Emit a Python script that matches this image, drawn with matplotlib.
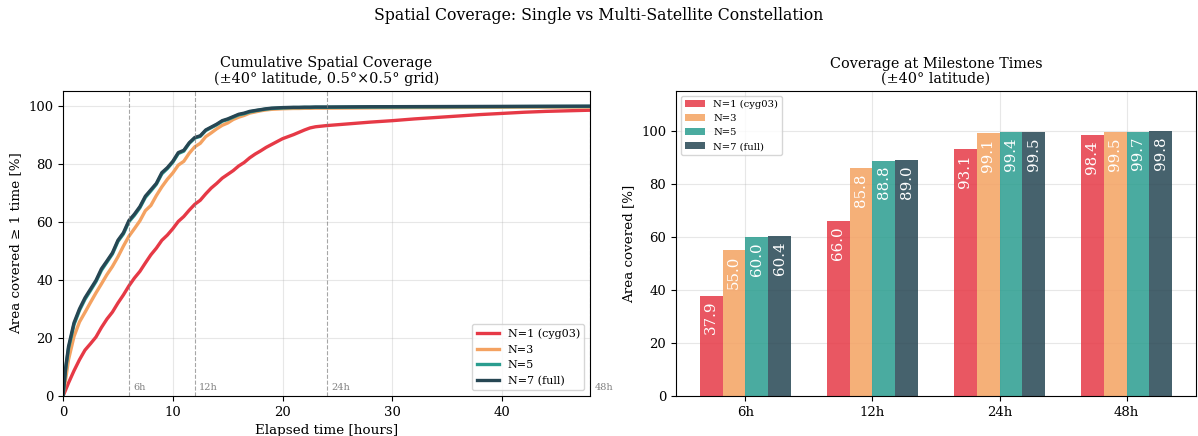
import numpy as np
import matplotlib
matplotlib.use("Agg")
import matplotlib.pyplot as plt

plt.rcParams["font.family"] = ["DejaVu Serif"]

# Elapsed time grid [hours]
hours = [0, 0.25] + [0.5 * k for k in range(1, 49)] + [26, 28, 30, 32, 34, 36, 38, 40, 42, 44, 46, 48]

# Cumulative coverage [%] per constellation size
cov_n1 = [0, 2.2, 4.5, 8.7, 12.5, 15.8, 18.0, 20.3, 23.6, 26.5, 28.9, 32.0, 34.8, 37.9, 40.6,
          42.9, 45.8, 48.6, 50.9, 53.6, 55.4, 57.6, 60.1, 61.8, 64.0, 66.0, 67.4, 69.6, 71.6,
          73.2, 75.0, 76.3, 77.6, 79.2, 80.4, 82.0, 83.3, 84.4, 85.6, 86.6, 87.6, 88.6, 89.3,
          90.0, 90.8, 91.6, 92.3, 92.7, 92.9, 93.1,
          93.7, 94.3, 94.8, 95.4, 95.9, 96.4, 96.9, 97.3, 97.7, 98.0, 98.2, 98.4]
cov_n3 = [0, 6.0, 12.5, 20.5, 25.5, 28.8, 32.2, 35.5, 38.6, 41.8, 44.6, 47.9, 51.6, 55.0, 57.6,
          60.3, 63.8, 65.6, 69.0, 72.0, 74.6, 76.8, 79.5, 80.8, 83.6, 85.8, 87.0, 89.3, 90.6,
          92.0, 93.2, 94.0, 95.2, 96.0, 96.6, 97.4, 97.8, 98.2, 98.5, 98.7, 98.8, 98.9, 98.95,
          99.0, 99.0, 99.05, 99.05, 99.1, 99.1, 99.1,
          99.15, 99.2, 99.25, 99.3, 99.3, 99.35, 99.4, 99.4, 99.45, 99.45, 99.5, 99.5]
cov_n5 = [0, 9.5, 16.3, 24.6, 29.5, 33.3, 36.3, 39.4, 43.3, 46.1, 48.9, 53.2, 55.8, 60.0, 62.2,
          64.8, 68.4, 70.6, 72.9, 76.5, 78.3, 80.5, 83.5, 84.3, 87.0, 88.8, 89.4, 91.4, 92.4,
          93.4, 94.6, 95.2, 96.0, 96.8, 97.2, 97.8, 98.2, 98.5, 98.8, 99.0, 99.1, 99.2, 99.25,
          99.3, 99.3, 99.35, 99.35, 99.4, 99.4, 99.4,
          99.45, 99.5, 99.52, 99.54, 99.56, 99.58, 99.6, 99.62, 99.64, 99.66, 99.68, 99.7]
cov_n7 = [0, 10.0, 17.0, 25.2, 30.0, 33.8, 36.8, 39.8, 43.8, 46.5, 49.3, 53.6, 56.2, 60.4, 62.6,
          65.2, 68.8, 71.0, 73.2, 76.9, 78.6, 80.8, 83.8, 84.6, 87.2, 89.0, 89.6, 91.6, 92.6,
          93.6, 94.8, 95.4, 96.2, 97.0, 97.4, 98.0, 98.3, 98.6, 98.9, 99.1, 99.2, 99.3, 99.35,
          99.4, 99.4, 99.45, 99.45, 99.5, 99.5, 99.5,
          99.55, 99.6, 99.62, 99.64, 99.66, 99.68, 99.7, 99.72, 99.74, 99.76, 99.78, 99.8]

series_labels = ["N=1 (cyg03)", "N=3", "N=5", "N=7 (full)"]
series_colors = ["#e63946", "#f4a261", "#2a9d8f", "#264653"]

# Milestone coverage [%]
milestone_labels = ["6h", "12h", "24h", "48h"]
milestone_hours = [6, 12, 24, 48]
milestone_n1 = [37.9, 66.0, 93.1, 98.4]
milestone_n3 = [55.0, 85.8, 99.1, 99.5]
milestone_n5 = [60.0, 88.8, 99.4, 99.7]
milestone_n7 = [60.4, 89.0, 99.5, 99.8]

fig = plt.figure(figsize=(11.98, 4.36), dpi=100)
ax1 = fig.add_axes([0.0526, 0.0917, 0.4399, 0.6995])
ax2 = fig.add_axes([0.5643, 0.0917, 0.4340, 0.6995])

fig.suptitle("Spatial Coverage: Single vs Multi-Satellite Constellation", fontsize=11.3, y=0.985)

# Left: cumulative coverage curves
for vals, lab, col in zip([cov_n1, cov_n3, cov_n5, cov_n7], series_labels, series_colors):
    ax1.plot(hours, vals, color=col, lw=2.4, label=lab)

for mh in milestone_hours:
    ax1.axvline(mh, color="gray", ls="--", lw=0.8, alpha=0.7)
    ax1.text(mh + 0.4, 2, f"{mh}h", fontsize=7, color="gray", clip_on=False)

ax1.set_xlim(0, 48)
ax1.set_ylim(0, 105)
ax1.set_xlabel("Elapsed time [hours]", fontsize=9.7)
ax1.set_ylabel("Area covered ≥ 1 time [%]", fontsize=9.7)
ax1.set_title("Cumulative Spatial Coverage\n(±40° latitude, 0.5°×0.5° grid)", fontsize=10.4, linespacing=1.1)
ax1.grid(True, alpha=0.3)
ax1.tick_params(labelsize=9.5)
ax1.legend(loc="lower right", fontsize=8)

# Right: grouped bars at milestones
x = np.arange(len(milestone_labels))
width = 0.18
groups = [milestone_n1, milestone_n3, milestone_n5, milestone_n7]
for i, (vals, lab, col) in enumerate(zip(groups, series_labels, series_colors)):
    pos = x + (i - 1.5) * width
    ax2.bar(pos, vals, width, color=col, alpha=0.85, label=lab)
    for px, v in zip(pos, vals):
        ax2.text(px, v - 2, f"{v:.1f}", rotation=90, ha="center", va="top",
                 color="white", fontsize=10.8)

ax2.set_xticks(x)
ax2.set_xticklabels(milestone_labels)
ax2.set_ylim(0, 115)
ax2.set_ylabel("Area covered [%]", fontsize=9.7)
ax2.set_title("Coverage at Milestone Times\n(±40° latitude)", fontsize=10.4, linespacing=1.1)
ax2.grid(True, alpha=0.3)
ax2.set_axisbelow(True)
ax2.tick_params(labelsize=9.5)
ax2.legend(loc="upper left", fontsize=7.2)

fig.savefig("out.png", dpi=100)
